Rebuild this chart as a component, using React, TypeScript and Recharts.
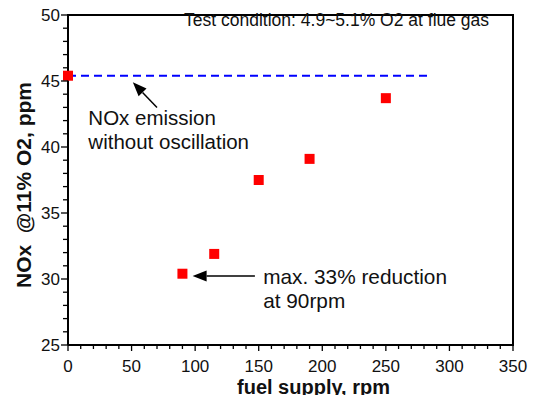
import {
  ScatterChart, Scatter, XAxis, YAxis, ReferenceLine, ReferenceDot,
} from "recharts";

// fuel supply (rpm) vs NOx @11% O2 (ppm)
const FUEL_RPM = [0, 90, 115, 150, 190, 250];
const NOX_PPM = [45.4, 30.4, 31.9, 37.5, 39.1, 43.7];

const NO_OSC_LEVEL = 45.4;
const NO_OSC_END = 285;

const X_TICKS = Array.from({ length: 36 }, (_, i) => i * 10);
const Y_TICKS = Array.from({ length: 26 }, (_, i) => 25 + i);

const FONT = "'Liberation Sans', Arial, sans-serif";
const W = 531;
const H = 395;
const TOP = 7;

const points = FUEL_RPM.map((x, i) => ({ x, y: NOX_PPM[i] }));

function XTick({ x, y, payload }: any) {
  const v = payload?.value ?? 0;
  const major = v % 50 === 0;
  return (
    <g>
      <line x1={x} y1={y} x2={x} y2={y + (major ? 6 : 4)} stroke="#000" strokeWidth={1.3} />
      {major && (
        <text x={x} y={y + 27} textAnchor="middle" fontSize={17} fontFamily={FONT} fill="#111">
          {v}
        </text>
      )}
    </g>
  );
}

function YTick({ x, y, payload }: any) {
  const v = payload?.value ?? 0;
  const major = v % 5 === 0;
  return (
    <g>
      <line x1={x} y1={y} x2={x - (major ? 7 : 5)} y2={y} stroke="#000" strokeWidth={1.3} />
      {major && (
        <text x={x - 8} y={y} dy="0.36em" textAnchor="end" fontSize={17} fontFamily={FONT} fill="#111">
          {v}
        </text>
      )}
    </g>
  );
}

function Arrow({ x1, y1, x2, y2 }: any) {
  const a = Math.atan2(y2 - y1, x2 - x1);
  const len = 14, half = 5.5;
  const bx = x2 - len * Math.cos(a), by = y2 - len * Math.sin(a);
  const px = -Math.sin(a) * half, py = Math.cos(a) * half;
  return (
    <g>
      <line x1={x1} y1={y1} x2={bx} y2={by} stroke="#000" strokeWidth={1.5} />
      <polygon points={`${x2},${y2} ${bx + px},${by + py} ${bx - px},${by - py}`} fill="#000" />
    </g>
  );
}

function Lines(lines: string[], size: number, gap: number) {
  return ({ cx, cy }: any) => (
    <text x={cx} y={cy} fontSize={size} fontFamily={FONT} fill="#111">
      {lines.map((t, i) => (
        <tspan key={i} x={cx} dy={i === 0 ? 0 : gap}>{t}</tspan>
      ))}
    </text>
  );
}

function Square({ cx, cy }: any) {
  if (cx == null || cy == null) return null;
  return <rect x={cx - 5} y={cy - 5} width={10} height={10} fill="#ff0000" />;
}

const FRAME = { stroke: "#000", strokeWidth: 2 };

// x-axis title, plus the top/right edges of the plot box (filled bars) taken from the axis box
function XTitle(p: any) {
  const vb = p.viewBox;
  const right = vb.x + vb.width;
  return (
    <g>
      <rect x={vb.x - 1} y={TOP - 1} width={vb.width + 2} height={2} fill="#000" />
      <rect x={right - 1} y={TOP - 1} width={2} height={vb.y - TOP + 2} fill="#000" />
      <text x={vb.x + vb.width / 2 + 23} y={H - 9} textAnchor="middle"
        fontSize={20} fontWeight="bold" fontFamily={FONT} fill="#111">
        fuel supply, rpm
      </text>
    </g>
  );
}

export default function App() {
  return (
    <div style={{ width: W, height: H, marginBottom: -8 }}>
      <ScatterChart width={W} height={H} margin={{ top: TOP, right: 26, bottom: 0, left: 0 }}>
        <XAxis
          type="number" dataKey="x" domain={[0, 350]} ticks={X_TICKS} interval={0}
          height={58} tickSize={0} tickMargin={0} tickLine={false}
          tick={(p: any) => <XTick {...p} />}
          axisLine={FRAME}
          label={(p: any) => <XTitle {...p} />}
        />
        <YAxis
          type="number" dataKey="y" domain={[25, 50]} ticks={Y_TICKS} interval={0}
          width={60} tickSize={0} tickMargin={0} tickLine={false}
          tick={(p: any) => <YTick {...p} />}
          axisLine={FRAME}
          label={(p: any) => {
            const vb = p.viewBox;
            const cy = vb.y + vb.height / 2 + 5;
            return (
              <text x={23} y={cy} transform={`rotate(-90, 23, ${cy})`} textAnchor="middle"
                fontSize={21} fontWeight="bold" fontFamily={FONT} fill="#111" style={{ whiteSpace: "pre" }}>
                {"NOx  @11% O2, ppm"}
              </text>
            );
          }}
        />
        <ReferenceLine
          segment={[{ x: 0, y: NO_OSC_LEVEL }, { x: NO_OSC_END, y: NO_OSC_LEVEL }]}
          stroke="#0000ff" strokeWidth={2} strokeDasharray="8 5"
        />
        <ReferenceLine segment={[{ x: 70, y: 43.0 }, { x: 51, y: 44.9 }]} shape={(p: any) => <Arrow {...p} />} />
        <ReferenceLine segment={[{ x: 147, y: 30.23 }, { x: 98, y: 30.23 }]} shape={(p: any) => <Arrow {...p} />} />
        <ReferenceDot x={16} y={41.67} r={0} shape={Lines(["NOx emission", "without oscillation"], 20.5, 24)} />
        <ReferenceDot x={153.5} y={29.62} r={0} shape={Lines(["max. 33% reduction", "at 90rpm"], 20.8, 24)} />
        <ReferenceDot x={91.3} y={49.17} r={0} shape={Lines(["Test condition: 4.9~5.1% O2 at flue gas"], 17.5, 0)} />
        <Scatter data={points} shape={(p: any) => <Square {...p} />} isAnimationActive={false} />
      </ScatterChart>
    </div>
  );
}
